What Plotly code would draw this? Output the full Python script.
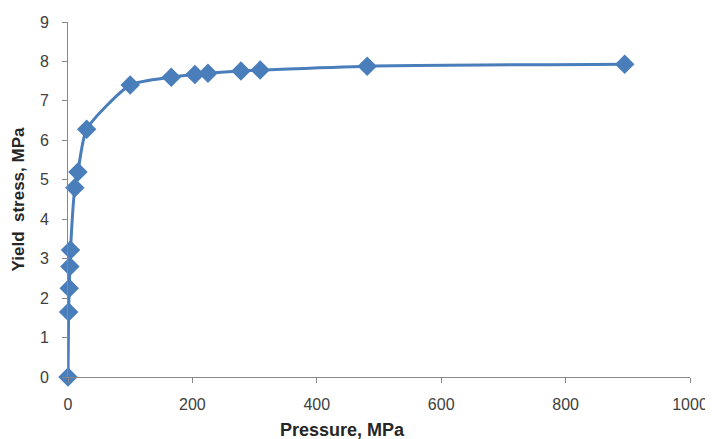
import plotly.graph_objects as go

pressure = [0, 1, 2, 3, 4, 11, 16, 30, 100, 166, 204, 225, 278, 309, 481, 895]
yield_stress = [0, 1.65, 2.25, 2.8, 3.22, 4.8, 5.2, 6.28, 7.4, 7.6, 7.67, 7.7, 7.76, 7.78, 7.88, 7.93]

color = "#4A7EBB"
fig = go.Figure()
fig.add_trace(go.Scatter(
    x=pressure, y=yield_stress, mode="lines+markers",
    line=dict(color=color, width=3, shape="spline", smoothing=0.6),
    marker=dict(symbol="diamond", size=15, color=color),
    showlegend=False, cliponaxis=False,
))
axis_common = dict(
    showgrid=False, zeroline=False, showline=True, linecolor="#878787", linewidth=1,
    ticks="outside", ticklen=5, tickcolor="#878787", automargin=False,
    tickfont=dict(family="Liberation Sans, Arial, sans-serif", size=16, color="#404040"),
)
fig.update_xaxes(range=[0, 1000], dtick=200, ticklabelstandoff=8, **axis_common)
fig.update_yaxes(range=[0, 9], dtick=1, ticklabelstandoff=10,
                 title=dict(text="<b>Yield  stress, MPa</b>", font=dict(family="Liberation Sans, sans-serif", size=17, color="#262626"), standoff=10),
                 **axis_common)
fig.add_annotation(
    text="<b>Pressure, MPa</b>", xref="paper", yref="paper", x=0.442, y=0,
    xanchor="center", yanchor="middle", yshift=-53, showarrow=False,
    font=dict(family="Liberation Sans, sans-serif", size=18, color="#262626"),
)
fig.update_layout(
    width=705, height=431, plot_bgcolor="white", paper_bgcolor="white",
    margin=dict(l=60, r=23, t=14, b=62),
)
fig.write_html("out.html")
